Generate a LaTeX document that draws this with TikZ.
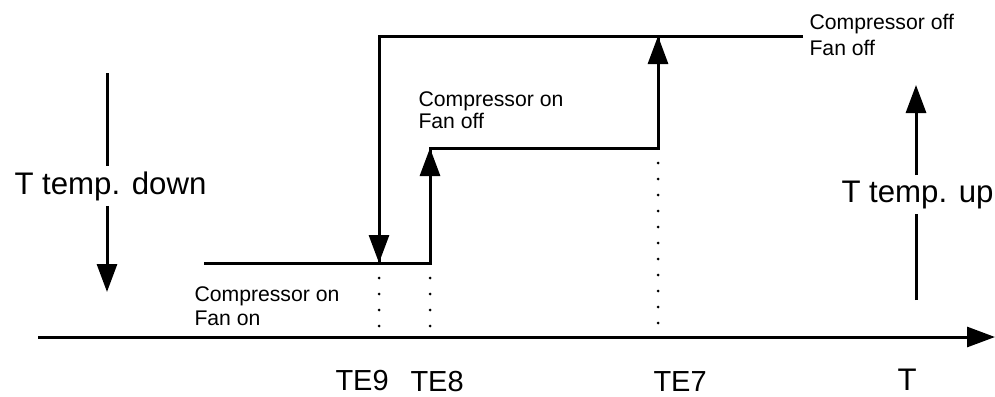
\documentclass[tikz,border=0pt]{standalone}
\usepackage{fontspec}
\setmainfont{Liberation Sans}
\usetikzlibrary{arrows.meta}

\begin{document}
\begin{tikzpicture}[x=0.5pt, y=-0.5pt,
    line width=1.5pt,
    >={Triangle[length=14pt,width=10pt]},
    guide/.style={line width=1.5pt, line cap=round, dash pattern=on 0pt off 8pt},
    small/.style={font=\fontsize{10.6}{12}\selectfont, align=left, inner sep=0pt, anchor=base west},
    big/.style={font=\fontsize{15.6}{18}\selectfont, inner xsep=0pt, inner ysep=2pt, anchor=base west},
    tick/.style={font=\fontsize{14.5}{17}\selectfont, inner sep=0pt, anchor=base west}]
  \useasboundingbox (0,0) rectangle (995,396);

  % time axis
  \coordinate (o) at (38,337);
  \coordinate (tEnd) at (995,337);
  \draw[->] (o) -- (tEnd);

  % switching levels
  \coordinate (lowL) at (204,263);
  \coordinate (te9) at (379,263);
  \coordinate (te8) at (430,263);
  \coordinate (midL) at (430,148);
  \coordinate (te7) at (658,148);
  \coordinate (top7) at (658,36);
  \coordinate (topL) at (379,36);
  \coordinate (topR) at (803,36);

  \draw (lowL) -- (te8) -- (midL) -- (te7) -- (top7);
  \draw (topR) -- (topL) -- (te9);
  \draw[->] (te8) -- (midL);
  \draw[->] (te7) -- (top7);
  \draw[->] (topL) -- (te9);

  % thresholds
  \draw[guide] (379,278) -- (379,326);
  \draw[guide] (430,278) -- (430,326);
  \draw[guide] (658,163) -- (658,325);

  \node[small] (onon) at (193,325) {Compressor on\\Fan on};
  \node[small, font=\fontsize{10.6}{10.8}\selectfont] (onoff) at (417,128) {Compressor on\\Fan off};
  \node[small, font=\fontsize{10.6}{13}\selectfont] (offoff) at (808,55) {Compressor off\\Fan off};

  % temperature direction
  \node[big] (down) at (13,194) {T temp. down};
  \coordinate (downS) at (107,73);
  \coordinate (downE) at (107,292);
  \draw (downS) -- (downS |- down.north);
  \draw[->] (downS |- down.south) -- (downE);

  \node[big] (up) at (840,202) {T temp. up};
  \coordinate (upS) at (916,300);
  \coordinate (upE) at (916,85);
  \draw (upS) -- (upS |- up.south);
  \draw[->] (upS |- up.north) -- (upE);

  % axis labels
  \node[tick] (lTE9) at (334,390) {TE9};
  \node[tick] (lTE8) at (409,391) {TE8};
  \node[tick] (lTE7) at (652,391) {TE7};
  \node[tick, font=\fontsize{15.6}{18}\selectfont] (lT) at (896,390) {T};
\end{tikzpicture}
\end{document}
